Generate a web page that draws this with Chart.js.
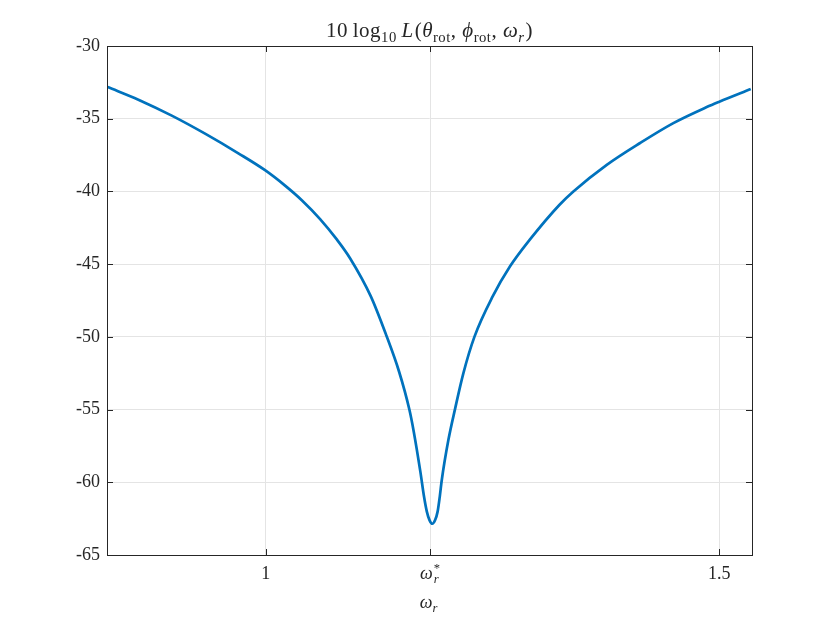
<!DOCTYPE html>
<html>
<head>
<meta charset="utf-8">
<script src="https://cdn.jsdelivr.net/npm/chart.js@4"></script>
<style>
  html, body { margin: 0; padding: 0; background: #ffffff; }
  #wrap { width: 830px; height: 623px; }
</style>
</head>
<body>
<div id="wrap"><canvas id="c" width="830" height="623"></canvas></div>
<script>
// ---- data ----
const omegaR = [0.8258, 0.8596, 0.8964, 0.9331, 0.9698, 0.9992, 1.0213, 1.0400, 1.0599, 1.0783, 1.0929, 1.1157, 1.1326, 1.1470, 1.1583, 1.1631, 1.1705, 1.1745, 1.1775, 1.1805, 1.1836, 1.1867, 1.1895, 1.1918, 1.1940, 1.2013, 1.2087, 1.2178, 1.2300, 1.2500, 1.2693, 1.2913, 1.3236, 1.3391, 1.3759, 1.4126, 1.4493, 1.4861, 1.5000, 1.5346];
const levelDb = [-32.82, -33.69, -34.79, -36.03, -37.38, -38.54, -39.60, -40.62, -41.90, -43.30, -44.59, -47.20, -49.85, -52.40, -55.00, -56.50, -59.30, -61.00, -62.00, -62.60, -62.85, -62.60, -62.00, -61.00, -59.86, -57.10, -54.95, -52.51, -50.00, -47.24, -45.15, -43.30, -40.93, -40.00, -38.17, -36.67, -35.30, -34.20, -33.83, -32.96];
const omegaStar = 1.1811;
const xTickValues = [1, omegaStar, 1.5];
const xTickLabels = ['1', 'ω*r', '1.5'];
const yTickValues = [-65, -60, -55, -50, -45, -40, -35, -30];
const titleText = '10 log10 L(θrot, ϕrot, ωr)';
const xAxisLabel = 'ωr';

const FONT = '"Liberation Serif", "DejaVu Serif", serif';
const TXT = '#262626';

function segFont(size, italic) { return (italic ? 'italic ' : '') + size + 'px ' + FONT; }
function measureRich(ctx, segs, size) {
  let w = 0;
  for (const s of segs) {
    if (s.stack) {
      ctx.font = segFont(size * 0.7, true);
      const a = ctx.measureText(s.stack.sub).width;
      ctx.font = segFont(size * 0.7, false);
      const b = ctx.measureText(s.stack.sup).width;
      s._w = Math.max(a, b) + 1;
    } else {
      const sz = s.s ? size * 0.7 : size;
      ctx.font = segFont(sz, s.i);
      s._w = ctx.measureText(s.t).width + (s.pad || 0);
    }
    w += s._w;
  }
  return w;
}
function drawRich(ctx, segs, cx, baseline, size, spacing) {
  ctx.save();
  if (spacing && 'letterSpacing' in ctx) ctx.letterSpacing = spacing;
  const total = measureRich(ctx, segs, size);
  let x = cx - total / 2;
  ctx.fillStyle = TXT;
  ctx.textAlign = 'left';
  ctx.textBaseline = 'alphabetic';
  for (const s of segs) {
    if (s.stack) {
      ctx.font = segFont(size * 0.7, true);
      ctx.fillText(s.stack.sub, x + 1, baseline + size * 0.22);
      ctx.font = segFont(size * 0.7, false);
      ctx.fillText(s.stack.sup, x + 1, baseline - size * 0.38);
    } else {
      const sz = s.s ? size * 0.7 : size;
      ctx.font = segFont(sz, s.i);
      const dy = s.s === 'sub' ? size * 0.22 : (s.s === 'sup' ? -size * 0.38 : 0);
      ctx.fillText(s.t, x, baseline + dy);
    }
    x += s._w;
  }
  ctx.restore();
}

const titleSegs = [
  {t: '10\u2009log'}, {t: '10', s: 'sub'}, {t: '\u2009'}, {t: 'L', i: true, pad: 1}, {t: '('},
  {t: 'θ', i: true}, {t: 'rot', s: 'sub'}, {t: ', '},
  {t: 'ϕ', i: true}, {t: 'rot', s: 'sub'}, {t: ', '},
  {t: 'ω', i: true}, {t: 'r', i: true, s: 'sub', pad: 1}, {t: ')'}
];
const xLabelSegs = [{t: 'ω', i: true}, {t: 'r', i: true, s: 'sub'}];
function tickSegs(label) {
  if (label === 'ω*r') return [{t: 'ω', i: true}, {stack: {sub: 'r', sup: '*'}}];
  return [{t: label}];
}

const decorPlugin = {
  id: 'decor',
  afterDatasetsDraw(chart) {
    const ctx = chart.ctx;
    const a = chart.chartArea;
    const xs = chart.scales.x, ys = chart.scales.y;
    ctx.save();
    ctx.strokeStyle = TXT;
    ctx.lineWidth = 1;
    ctx.strokeRect(Math.round(a.left) + 0.5, Math.round(a.top) + 0.5,
                   Math.round(a.right) - Math.round(a.left), Math.round(a.bottom) - Math.round(a.top));
    const tl = 6;
    ctx.beginPath();
    for (const v of xTickValues) {
      const px = Math.round(xs.getPixelForValue(v)) + 0.5;
      ctx.moveTo(px, a.bottom); ctx.lineTo(px, a.bottom - tl);
      ctx.moveTo(px, a.top); ctx.lineTo(px, a.top + tl);
    }
    for (const v of yTickValues) {
      const py = Math.round(ys.getPixelForValue(v)) + 0.5;
      ctx.moveTo(a.left, py); ctx.lineTo(a.left + tl, py);
      ctx.moveTo(a.right, py); ctx.lineTo(a.right - tl, py);
    }
    ctx.stroke();
    ctx.restore();
  },
  afterDraw(chart) {
    const ctx = chart.ctx;
    const a = chart.chartArea;
    const xs = chart.scales.x;
    const cx = (a.left + a.right) / 2;
    drawRich(ctx, titleSegs, cx, 37, 21, '0.5px');
    xTickValues.forEach((v, k) => {
      drawRich(ctx, tickSegs(xTickLabels[k]), xs.getPixelForValue(v), 579, 18);
    });
    drawRich(ctx, xLabelSegs, cx - 1, 608, 18);
  }
};

new Chart(document.getElementById('c'), {
  type: 'line',
  data: {
    datasets: [{
      label: titleText,
      data: omegaR.map((x, k) => ({x: x, y: levelDb[k]})),
      borderColor: '#0072BD',
      backgroundColor: '#0072BD',
      borderWidth: 2.7,
      pointRadius: 0,
      cubicInterpolationMode: 'monotone',
      fill: false
    }]
  },
  options: {
    responsive: false,
    animation: false,
    devicePixelRatio: 1,
    layout: { padding: { left: 0, right: 78, top: 46, bottom: 0 } },
    plugins: { legend: { display: false }, title: { display: false }, tooltip: { enabled: false } },
    scales: {
      x: {
        type: 'linear',
        min: 0.825,
        max: 1.536,
        afterBuildTicks: (s) => { s.ticks = xTickValues.map(v => ({value: v})); },
        afterFit: (s) => { s.height = 68; },
        ticks: { display: false },
        grid: { color: '#e4e4e4', lineWidth: 1, drawTicks: false },
        border: { display: false },
        title: { display: false, text: xAxisLabel }
      },
      y: {
        type: 'linear',
        min: -65,
        max: -30,
        afterBuildTicks: (s) => { s.ticks = yTickValues.map(v => ({value: v})); },
        afterFit: (s) => { s.width = 107; },
        ticks: {
          padding: 7,
          color: TXT,
          font: { family: FONT, size: 18 },
          callback: (v) => String(v)
        },
        grid: { color: '#e4e4e4', lineWidth: 1, drawTicks: false },
        border: { display: false }
      }
    }
  },
  plugins: [decorPlugin]
});
</script>
</body>
</html>
